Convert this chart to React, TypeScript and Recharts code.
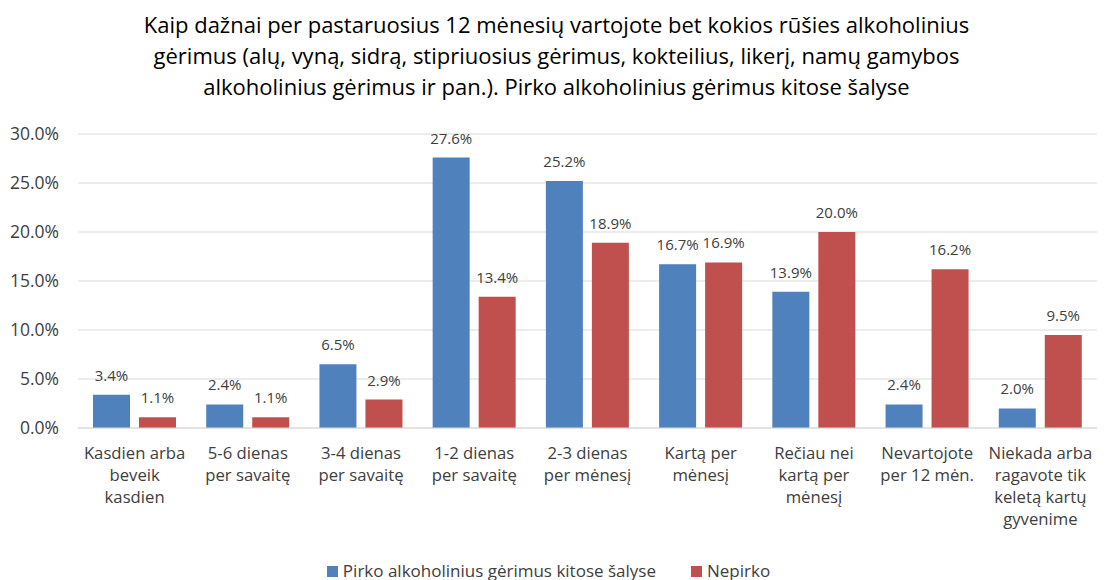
import { BarChart, Bar, XAxis, YAxis, CartesianGrid, Legend, LabelList } from 'recharts'

const categories = [
  'Kasdien arba\nbeveik\nkasdien',
  '5-6 dienas\nper savaitę',
  '3-4 dienas\nper savaitę',
  '1-2 dienas\nper savaitę',
  '2-3 dienas\nper mėnesį',
  'Kartą per\nmėnesį',
  'Rečiau nei\nkartą per\nmėnesį',
  'Nevartojote\nper 12 mėn.',
  'Niekada arba\nragavote tik\nkeletą kartų\ngyvenime'
]
const pirko = [3.4, 2.4, 6.5, 27.6, 25.2, 16.7, 13.9, 2.4, 2.0]
const nepirko = [1.1, 1.1, 2.9, 13.4, 18.9, 16.9, 20.0, 16.2, 9.5]
const yTicks = [0, 5, 10, 15, 20, 25, 30]
const seriesNames = ['Pirko alkoholinius gėrimus kitose šalyse', 'Nepirko']

const titleLines = [
  'Kaip dažnai per pastaruosius 12 mėnesių vartojote bet kokios rūšies alkoholinius',
  'gėrimus (alų, vyną, sidrą, stipriuosius gėrimus, kokteilius, likerį, namų gamybos',
  'alkoholinius gėrimus ir pan.). Pirko alkoholinius gėrimus kitose šalyse'
]

const FONT = '"Open Sans", sans-serif'
const TEXT = '#404040'
const BLUE = '#4F81BD'
const RED = '#C0504D'

const data = categories.map((c, i) => ({ name: c, pirko: pirko[i], nepirko: nepirko[i] }))

const fmt = (v: any) => Number(v).toFixed(1) + '%'

function CategoryTick(props: any) {
  const { x, y, payload } = props
  const lines = String(payload.value).split('\n')
  return (
    <text x={x} y={y + 23} textAnchor="middle" fill={TEXT} fontSize={16.7} fontFamily={FONT}>
      {lines.map((l: string, i: number) => (
        <tspan key={i} x={x} dy={i === 0 ? 0 : 22}>{l}</tspan>
      ))}
    </text>
  )
}

function LegendBox() {
  const items = [
    { name: seriesNames[0], color: BLUE },
    { name: seriesNames[1], color: RED }
  ]
  return (
    <div style={{ display: 'flex', justifyContent: 'center', gap: 35, fontSize: 17, fontFamily: FONT, color: TEXT, lineHeight: '24px' }}>
      {items.map((it) => (
        <div key={it.name} style={{ display: 'flex', alignItems: 'center', gap: 5 }}>
          <span style={{ display: 'inline-block', width: 11, height: 11, background: it.color }} />
          <span>{it.name}</span>
        </div>
      ))}
    </div>
  )
}

export default function App() {
  return (
    <div style={{ position: 'relative', width: 1113, height: 580, background: '#fff', fontFamily: FONT }}>
      <style>{'body{margin:0}'}</style>
      <div style={{ position: 'absolute', top: 9, left: 0, width: 1113, textAlign: 'center', fontSize: 22, lineHeight: '31px', color: '#000' }}>
        {titleLines.map((t, i) => <div key={i}>{t}</div>)}
      </div>
      <BarChart width={1113} height={580} data={data} margin={{ top: 134, right: 16, left: 0, bottom: 0 }} barGap={9} barSize={37}>
        <CartesianGrid vertical={false} stroke="#d9d9d9" />
        <XAxis dataKey="name" interval={0} height={128} tick={<CategoryTick />} tickLine={false} axisLine={{ stroke: '#d9d9d9' }} />
        <YAxis width={78} domain={[0, 30]} ticks={yTicks} tickFormatter={fmt} tick={{ fill: TEXT, fontSize: 17.5, fontFamily: FONT }} axisLine={false} tickLine={false} tickMargin={13} />
        <Legend verticalAlign="bottom" height={24} wrapperStyle={{ bottom: -3 }} content={<LegendBox />} />
        <Bar dataKey="pirko" name={seriesNames[0]} fill={BLUE} isAnimationActive={false}>
          <LabelList dataKey="pirko" position="top" formatter={fmt} fill={TEXT} fontSize={15} fontFamily={FONT} offset={14} />
        </Bar>
        <Bar dataKey="nepirko" name={seriesNames[1]} fill={RED} isAnimationActive={false}>
          <LabelList dataKey="nepirko" position="top" formatter={fmt} fill={TEXT} fontSize={15} fontFamily={FONT} offset={14} />
        </Bar>
      </BarChart>
    </div>
  )
}
